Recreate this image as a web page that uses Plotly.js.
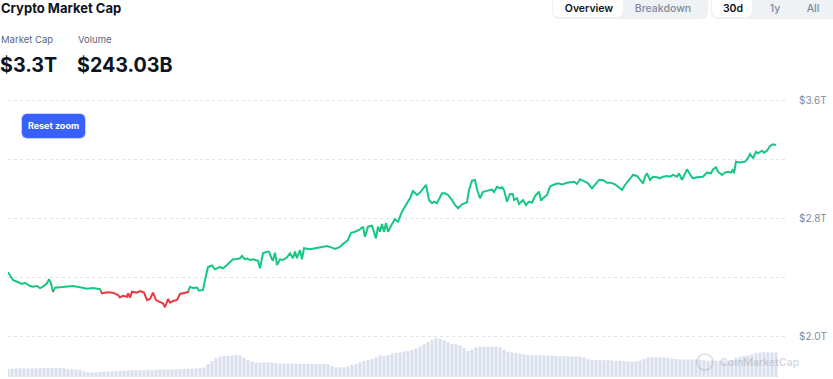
<!DOCTYPE html>
<html>
<head>
<meta charset="utf-8">
<script src="https://cdn.plot.ly/plotly-3.0.1.min.js"></script>
<style>
  html, body { margin:0; padding:0; background:#fff; width:833px; height:379px; overflow:hidden; font-family: Inter, "Noto Sans", sans-serif; }
  #chart { position:absolute; left:0; top:0; width:833px; height:379px; }
  .abs { position:absolute; white-space:nowrap; }
  .title { left:1px; top:0px; font-size:13px; font-weight:700; color:#0d1421; }
  .lbl { top:34px; font-size:9.5px; color:#58667e; }
  .val { top:53px; font-size:19.7px; font-weight:700; color:#0d1421; }
  .grp { top:-5px; height:24px; background:#eff2f5; border-radius:7px; }
  .pill { position:absolute; top:2px; height:20px; background:#fff; border-radius:6px; }
  .btxt { position:absolute; top:5px; font-size:10.5px; line-height:17px; transform:translateX(-50%); }
  .on { color:#0d1421; font-weight:600; }
  .off { color:#808a9d; font-weight:500; }
  .reset { left:22px; top:114px; width:63px; height:24px; background:#3861fb; border-radius:5px; color:#fff; font-size:9px; font-weight:700; text-align:center; line-height:24px; box-shadow:0 0 0 1px #c9d3fb; }
</style>
</head>
<body>
<div id="chart"></div>
<div class="abs title">Crypto Market Cap</div>
<div class="abs lbl" style="left:1px">Market Cap</div>
<div class="abs lbl" style="left:78px">Volume</div>
<div class="abs val" style="left:0px">$3.3T</div>
<div class="abs val" style="left:77px">$243.03B</div>
<div class="abs grp" style="left:552px; width:156px;">
  <div class="pill" style="left:1px; width:70px;"></div>
  <div class="btxt on" style="left:37px">Overview</div>
  <div class="btxt off" style="left:111px">Breakdown</div>
</div>
<div class="abs grp" style="left:711px; width:130px;">
  <div class="pill" style="left:1px; width:40px;"></div>
  <div class="btxt on" style="left:22px">30d</div>
  <div class="btxt off" style="left:64px">1y</div>
  <div class="btxt off" style="left:102px">All</div>
</div>
<div class="abs reset">Reset zoom</div>
<script>
// Time (hours into the zoomed window) and total market cap (trillions USD)
const capTime = [0,5,9,14,17,22,25,29,32,35,39,41,43,45,47,52,59,65,72,79,85,92,94,99,105,110,112,115,119,120,122,124,129,132,136,139,142,145,148,151,155,157,160,162,165,169,172,174,177,180,182,185,189,191,195,197,200,204,207,212,215,219,220,224,225,229,232,234,237,239,242,245,249,250,252,255,259,261,264,265,267,269,272,275,279,282,285,287,289,292,294,296,302,309,314,319,324,327,331,335,340,343,347,352,355,357,360,364,366,368,370,372,374,376,378,380,384,387,390,394,399,402,405,409,412,415,418,419,421,424,426,429,434,437,440,444,447,450,454,459,461,464,467,469,472,475,479,484,486,489,492,494,496,499,502,505,506,509,511,515,518,521,524,527,531,533,535,539,542,545,550,554,559,563,566,569,572,577,580,584,587,591,595,599,603,607,610,614,617,620,625,629,632,635,637,639,642,645,649,652,655,659,662,665,669,671,674,676,679,683,685,689,692,695,699,703,705,708,710,714,717,720,723,725,726,728,732,737,740,742,745,748,750,754,756,759,762,765,768];
const marketCap = [2.432,2.380,2.368,2.353,2.361,2.339,2.334,2.339,2.325,2.334,2.357,2.386,2.357,2.300,2.327,2.330,2.334,2.339,2.330,2.321,2.325,2.317,2.289,2.296,2.294,2.278,2.262,2.273,2.266,2.289,2.260,2.300,2.294,2.305,2.294,2.244,2.251,2.294,2.244,2.233,2.222,2.195,2.251,2.226,2.237,2.244,2.285,2.288,2.294,2.298,2.334,2.325,2.329,2.307,2.312,2.380,2.468,2.478,2.452,2.468,2.459,2.481,2.488,2.515,2.520,2.522,2.527,2.544,2.520,2.527,2.515,2.520,2.515,2.510,2.459,2.561,2.572,2.572,2.520,2.515,2.565,2.481,2.520,2.515,2.534,2.561,2.527,2.572,2.527,2.583,2.520,2.595,2.588,2.595,2.605,2.610,2.599,2.590,2.601,2.624,2.651,2.700,2.707,2.723,2.741,2.673,2.741,2.748,2.696,2.662,2.741,2.707,2.759,2.707,2.764,2.707,2.759,2.791,2.775,2.843,2.900,2.934,2.983,2.956,2.972,2.995,3.024,2.990,2.922,2.900,2.911,2.900,2.967,2.967,2.956,2.922,2.888,2.866,2.893,2.906,2.990,3.053,3.058,2.995,2.934,2.978,2.986,2.993,2.976,3.012,3.003,3.008,2.990,2.911,2.963,2.961,2.922,2.934,2.895,2.922,2.888,2.911,2.904,2.949,2.978,2.917,2.934,2.956,3.012,3.024,3.035,3.028,3.039,3.042,3.046,3.031,3.062,3.046,3.035,3.001,3.024,3.058,3.058,3.039,3.039,3.028,3.012,2.990,3.024,3.051,3.092,3.085,3.062,3.035,3.080,3.103,3.058,3.080,3.076,3.069,3.080,3.085,3.080,3.092,3.080,3.103,3.058,3.092,3.130,3.085,3.069,3.076,3.080,3.080,3.108,3.103,3.130,3.144,3.114,3.092,3.108,3.114,3.108,3.130,3.103,3.182,3.176,3.182,3.205,3.234,3.205,3.249,3.239,3.256,3.243,3.256,3.288,3.300,3.295];
// Baseline separating gains (green) from losses (red)
const baseline = 2.306;
// Volume per 4-hour bucket (billions USD)
const volume = [79,81,84,87,84,83,85,87,86,87,89,90,89,89,87,77,75,73,69,54,47,44,45,49,52,53,55,57,59,61,64,69,67,65,65,71,69,72,75,73,75,73,75,77,79,81,82,85,87,93,128,157,187,202,207,210,212,216,212,187,167,153,143,141,146,144,141,138,131,131,133,131,134,130,130,132,128,130,128,130,123,108,96,94,96,103,121,128,143,157,170,177,192,212,207,216,231,236,241,251,256,266,280,300,320,344,364,381,374,364,344,325,320,310,285,256,271,290,298,300,298,298,301,293,271,251,241,236,229,221,219,216,215,216,213,210,212,207,204,207,203,200,203,202,192,175,167,170,167,164,167,162,160,162,157,153,151,153,162,177,192,195,193,195,192,190,182,175,174,172,175,173,172,170,165,160,162,159,160,162,159,165,177,197,207,212,221,236,241,244,243,241,243];
const tickVals = [2.0, 2.4, 2.8, 3.2, 3.6];
const tickText = ['$2.0T', '', '$2.8T', '', '$3.6T'];

const volTime = volume.map((_, i) => i * 4);

// split the line into green / red pieces at the baseline
const gx = [], gy = [], rx = [], ry = [];
function addSeg(X, Y, x0, y0, x1, y1) {
  const n = X.length;
  if (n && X[n-1] === x0 && Y[n-1] === y0) { X.push(x1); Y.push(y1); }
  else { if (n) { X.push(null); Y.push(null); } X.push(x0, x1); Y.push(y0, y1); }
}
for (let i = 0; i < capTime.length - 1; i++) {
  const x0 = capTime[i], y0 = marketCap[i], x1 = capTime[i+1], y1 = marketCap[i+1];
  const a = y0 >= baseline, b = y1 >= baseline;
  if (a === b) { a ? addSeg(gx, gy, x0, y0, x1, y1) : addSeg(rx, ry, x0, y0, x1, y1); }
  else {
    const f = (baseline - y0) / (y1 - y0);
    const xc = x0 + f * (x1 - x0);
    a ? addSeg(gx, gy, x0, y0, xc, baseline) : addSeg(rx, ry, x0, y0, xc, baseline);
    b ? addSeg(gx, gy, xc, baseline, x1, y1) : addSeg(rx, ry, xc, baseline, x1, y1);
  }
}

const traces = [
  { x: volTime, y: volume, type: 'bar', yaxis: 'y2', marker: { color: '#d9dfec', line: { width: 0 } }, hoverinfo: 'skip' },
  { x: gx, y: gy, type: 'scatter', mode: 'lines', line: { color: '#16c784', width: 2 }, connectgaps: false, hoverinfo: 'skip' },
  { x: rx, y: ry, type: 'scatter', mode: 'lines', line: { color: '#ea3943', width: 2 }, connectgaps: false, hoverinfo: 'skip' }
];

const layout = {
  width: 833, height: 379,
  margin: { l: 8, r: 46, t: 90, b: 0, pad: 0 },
  paper_bgcolor: '#fff', plot_bgcolor: '#fff',
  showlegend: false,
  bargap: 0.25,
  font: { family: 'Inter, "Noto Sans", sans-serif' },
  xaxis: { range: [0, 779], showgrid: false, zeroline: false, showticklabels: false, ticks: '', showline: false, fixedrange: true },
  yaxis: {
    range: [1.7085, 3.6678], side: 'right',
    tickvals: tickVals, ticktext: tickText,
    showgrid: true, gridcolor: '#dfe2e7', griddash: 'dot', gridwidth: 1,
    zeroline: false, showline: false, ticks: '',
    tickfont: { size: 10, color: '#808a9d' },
    ticklabelstandoff: 11, fixedrange: true
  },
  yaxis2: { overlaying: 'y', range: [-19.7, 2824], visible: false, showgrid: false, zeroline: false, fixedrange: true },
  shapes: [
    { type: 'circle', xref: 'paper', yref: 'paper', x0: 0.8845, x1: 0.905, y0: 0.031, y1: 0.0865, line: { color: 'rgba(150,160,175,0.35)', width: 1.5 }, fillcolor: 'rgba(0,0,0,0)' }
  ],
  annotations: [
    { xref: 'paper', yref: 'paper', x: 0.9114, y: 0.0588, xanchor: 'left', yanchor: 'middle', text: 'CoinMarketCap', showarrow: false,
      font: { size: 10.5, color: 'rgba(150,160,175,0.4)', family: 'Inter, sans-serif', weight: 600 } }
  ]
};

Plotly.newPlot('chart', traces, layout, { staticPlot: true, displayModeBar: false });
</script>
</body>
</html>
